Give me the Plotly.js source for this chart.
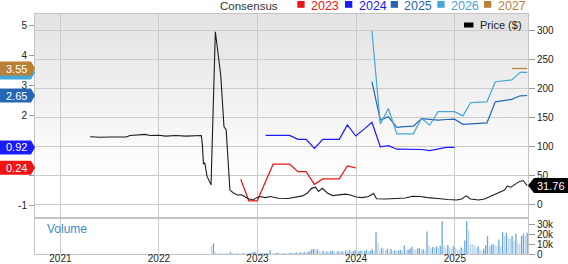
<!DOCTYPE html>
<html><head><meta charset="utf-8">
<script src="https://cdn.plot.ly/plotly-3.0.1.min.js"></script>
<style>
html,body{margin:0;padding:0;background:#fff;overflow:hidden;}
#wrap{position:relative;width:568px;height:264px;}
#bg{position:absolute;left:35px;top:14px;width:493px;height:203px;background:linear-gradient(#e3e3e3 0%,#f2f2f2 45%,#ffffff 80%);}
#chart{position:absolute;left:0;top:0;width:568px;height:264px;}
</style></head><body>
<div id="wrap"><div id="bg"></div><div id="chart"></div></div>
<script>
// ---- data ----
const priceDates = ['2021-04-21','2021-05-28','2021-07-04','2021-08-10','2021-09-02','2021-09-16','2021-10-23','2021-11-11','2021-11-29','2022-01-01','2022-01-26','2022-03-05','2022-04-11','2022-05-18','2022-06-07','2022-06-11','2022-06-15','2022-06-20','2022-06-28','2022-07-13','2022-07-29','2022-08-18','2022-08-30','2022-09-07','2022-09-21','2022-10-04','2022-10-19','2022-11-03','2022-11-13','2022-11-28','2022-12-16','2022-12-29','2023-01-11','2023-01-30','2023-02-18','2023-03-19','2023-04-25','2023-05-21','2023-06-17','2023-07-05','2023-07-20','2023-08-04','2023-08-15','2023-08-29','2023-09-17','2023-10-06','2023-10-28','2023-11-23','2023-12-11','2024-01-02','2024-01-24','2024-02-16','2024-03-06','2024-03-17','2024-04-19','2024-05-26','2024-07-02','2024-07-28','2024-08-27','2024-09-22','2024-10-14','2024-11-09','2024-12-05','2024-12-24','2025-01-08','2025-01-26','2025-02-12','2025-02-28','2025-03-30','2025-04-21','2025-05-14','2025-06-05','2025-06-20','2025-07-04','2025-07-14','2025-07-27','2025-08-14','2025-08-29','2025-09-11','2025-09-26'];
const priceValues = [116,115,115.5,115,115.5,118,119,120,118,118.5,117,118,117,118,118,102,69,71,48,33,297,222,133,128,24,19,15.5,16,13,9,7,11,13,11,13,10,9.5,12,14,19,27,29,21.5,27,19,14.5,15.5,17,15.5,12,11,13,18,9,8.6,9.5,10.3,13.5,13,11,9.5,9,7.8,7,7,8.6,14,8.6,7,8.6,13,17,21,24,31,29,35,39,40.5,31.76];

const eps2023Dates = ['2022-10-31','2022-11-30','2022-12-31','2023-01-31','2023-02-28','2023-03-31','2023-04-30','2023-05-31','2023-06-30','2023-07-31','2023-08-31','2023-09-30','2023-10-31','2023-11-30','2023-12-31'];
const eps2023 = [-0.14,-0.86,-0.86,-0.2,0.36,0.36,0.36,0.11,0.11,-0.31,-0.13,-0.13,-0.13,0.3,0.24];

const eps2024Dates = ['2023-01-31','2023-02-28','2023-03-31','2023-04-30','2023-05-31','2023-06-30','2023-07-31','2023-08-31','2023-09-30','2023-10-31','2023-11-30','2023-12-31','2024-01-31','2024-02-29','2024-03-31','2024-04-30','2024-05-31','2024-06-30','2024-07-31','2024-08-31','2024-09-30','2024-10-31','2024-11-30','2024-12-31'];
const eps2024 = [1.32,1.32,1.32,1.32,1.19,1.19,0.89,1.19,1.19,1.19,1.67,1.30,1.53,1.76,0.94,0.98,0.86,0.86,0.86,0.85,0.81,0.86,0.92,0.92];

const eps2025Dates = ['2024-02-29','2024-03-31','2024-04-30','2024-05-31','2024-06-30','2024-07-31','2024-08-31','2024-09-30','2024-10-31','2024-11-30','2024-12-31','2025-01-31','2025-02-28','2025-03-31','2025-04-30','2025-05-31','2025-06-30','2025-07-31','2025-08-31','2025-09-26'];
const eps2025 = [3.11,1.83,1.94,1.59,1.61,1.63,1.88,1.86,1.83,1.85,1.86,1.69,1.71,1.72,1.74,2.44,2.47,2.52,2.64,2.65];

const eps2026Dates = eps2025Dates;
const eps2026 = [4.8,1.70,2.22,1.37,1.37,1.37,1.89,1.66,2.11,2.11,2.11,1.97,2.41,2.43,2.44,3.11,3.14,3.17,3.42,3.42];

const eps2027Dates = ['2025-07-31','2025-08-31','2025-09-26'];
const eps2027 = [3.55,3.55,3.55];

// weekly volume (thousands), first week starting 2022-07-15
const volumeStart = '2022-07-15';
const volumeK = [8.5,11,2,0.6,0.5,0.8,0.5,0.4,0.6,0.5,2.2,0.8,0.6,0.5,0.7,0.5,0.6,0.8,0.5,0.6,0.9,1.1,2.1,2.3,1.8,1,0.8,0.9,0.7,0.8,0.9,3.8,0.8,0.6,0.9,1.4,0.8,0.6,0.7,0.9,0.6,0.8,1.0,0.7,1.2,1.5,1.0,1.8,1.2,2.0,1.5,2.4,3,5,5.4,4.6,5,3,2.2,3.2,2,2.6,2.2,2.8,3.4,2.4,2.0,3.0,2.2,2.8,2.4,3.6,2.6,3.8,2.8,3.4,4.0,2.6,3.2,3.6,2.8,3.4,4.4,2.6,3.2,5,3.4,22.5,12,4,6.5,5.8,4,5.5,3,5.2,3.4,4,3,3.6,4.2,3,9,3.6,4.4,5.6,7.6,5,4,5.6,6.2,4,5,3.6,23.4,8.6,6,7.2,6.4,8,6.2,8.6,34,8,6,9.4,7,5.2,8,6,5,4.2,6.6,5,14,34,24.5,10.4,10.2,9,6.8,8,5,3.6,5.4,9,18.5,8,9.4,10,9,8.4,15,8,22.7,19,22,17,15.6,18.5,14,21,12,10.3,18.5,21,19.5,22];

// labels "1" and "0" are hidden under the value tags in the reference
const leftTickVals = [-1,0,1,2,3,4,5];
const leftTickText = ['-1','','','2','3','4','5'];
const volTickVals = [0,10,20,30];
const volTickText = ['0','10k','20k','30k'];

const seriesNames = ['2023','2024','2025','2026','2027'];
const seriesColors = ['#f01414','#1a1aff','#2466b4','#44a6d9','#b98036'];
const lastLabels = ['0.24','0.92','2.65','3.42','3.55'];
const lastValues = [0.24,0.92,2.65,3.42,3.55];
const lastPrice = 31.76;

// ---- build ----
const volumeDates = volumeK.map((_, i) => {
  const d = new Date(volumeStart + 'T00:00:00Z');
  d.setUTCDate(d.getUTCDate() + 7 * i);
  return d.toISOString().slice(0, 10);
});
const volColors = volumeK.map((v, i) => (i > 0 && v > volumeK[i - 1]) ? '#6fa7da' : '#b9d5ee');

const FONT = 'Arial, "Liberation Sans", sans-serif';
const W = 568, H = 264, ML = 35, MR = 40, MT = 14, MB = 10;
const PW = W - ML - MR, PH = H - MT - MB;
const px = x => (x - ML) / PW;          // pixel -> paper x (decorations only)
const py = y => (H - MB - y) / PH;      // pixel -> paper y (decorations only)

const epsDates = [eps2023Dates, eps2024Dates, eps2025Dates, eps2026Dates, eps2027Dates];
const epsVals = [eps2023, eps2024, eps2025, eps2026, eps2027];

const traces = [];
traces.push({type:'bar', x: volumeDates, y: volumeK, xaxis:'x', yaxis:'y3',
  marker:{color: volColors, line:{width:0}}, hoverinfo:'skip', showlegend:false});
epsDates.forEach((d, i) => traces.push({type:'scatter', mode:'lines', x:d, y:epsVals[i],
  xaxis:'x', yaxis:'y', line:{color:seriesColors[i], width:1.2}, name:seriesNames[i], showlegend:false}));
traces.push({type:'scatter', mode:'lines', x: priceDates, y: priceValues, xaxis:'x', yaxis:'y2',
  line:{color:'#1c1c1c', width:1.1}, name:'Price ($)', showlegend:false});

const shapes = [];
const annotations = [];
// separator band between panels
shapes.push({type:'rect', xref:'paper', yref:'paper', x0:0, x1:1, y0:py(219), y1:py(217),
  fillcolor:'#e2e2e2', line:{width:0}, layer:'below'});

// left value tags (3.55 drawn last so it sits on top of 3.42)
const tagOrder = [0,1,2,3,4];
const halfH = 7 / 30; // 7px in EPS units (30 px per unit)
tagOrder.forEach(i => {
  const v = lastValues[i];
  const xl = px(0), xb = px(31), xt = px(35);
  shapes.push({type:'path', xref:'paper', yref:'y', layer:'above',
    path:`M ${xl},${v+halfH} L ${xb},${v+halfH} L ${xt},${v} L ${xb},${v-halfH} L ${xl},${v-halfH} Z`,
    fillcolor: seriesColors[i], line:{width:0}});
  if (i !== 3) {
    annotations.push({xref:'paper', yref:'y', x:px(16), y:v, text:lastLabels[i], showarrow:false,
      xanchor:'center', yanchor:'middle', font:{family:FONT, size:11, color:'#ffffff'}});
  }
});
// right price tag
{
  const hh = 7.5 / 0.58;
  const v = lastPrice;
  shapes.push({type:'path', xref:'paper', yref:'y2', layer:'above',
    path:`M ${px(528)},${v} L ${px(534)},${v+hh} L ${px(568)},${v+hh} L ${px(568)},${v-hh} L ${px(534)},${v-hh} Z`,
    fillcolor:'#000000', line:{width:0}});
  annotations.push({xref:'paper', yref:'y2', x:px(550.5), y:v, text:lastPrice.toFixed(2), showarrow:false,
    xanchor:'center', yanchor:'middle', font:{family:FONT, size:11, color:'#ffffff'}});
}
// top legend
annotations.push({xref:'paper', yref:'paper', x:px(280), y:py(5.5), text:'Consensus', showarrow:false,
  xanchor:'right', yanchor:'middle', font:{family:FONT, size:11.5, color:'#333333'}});
const sqX = [297.3, 345, 390.7, 437.3, 484];
seriesNames.forEach((n, i) => {
  shapes.push({type:'rect', xref:'paper', yref:'paper', x0:px(sqX[i]), x1:px(sqX[i]+7.3), y0:py(7.8), y1:py(1),
    fillcolor:seriesColors[i], line:{width:0}});
  annotations.push({xref:'paper', yref:'paper', x:px(sqX[i]+11.5), y:py(5.5), text:n, showarrow:false,
    xanchor:'left', yanchor:'middle', font:{family:FONT, size:12.5, color:seriesColors[i]}});
});
// price legend
shapes.push({type:'rect', xref:'paper', yref:'paper', x0:px(464), x1:px(473.5), y0:py(27.5), y1:py(22.5),
  fillcolor:'#000000', line:{width:0}});
annotations.push({xref:'paper', yref:'paper', x:px(478), y:py(25), text:'Price ($)', showarrow:false,
  xanchor:'left', yanchor:'middle', font:{family:FONT, size:11, color:'#222222'}});
// volume label
annotations.push({xref:'paper', yref:'paper', x:px(44.5), y:py(229), text:'Volume', showarrow:false,
  xanchor:'left', yanchor:'middle', font:{family:FONT, size:12, color:'#3b8ad0'}});

const gridC = '#cbcbcb', lineC = '#c4c4c4', tickFont = {family:FONT, size:10, color:'#222222'};
const layout = {
  width: W, height: H,
  margin: {l: ML, r: MR, t: MT, b: MB, pad: 0},
  paper_bgcolor: 'rgba(0,0,0,0)', plot_bgcolor: 'rgba(0,0,0,0)',
  showlegend: false, bargap: 0.3,
  font: {family: FONT, size: 10, color: '#222'},
  xaxis: {type:'date', range:['2020-09-29','2025-09-29'], anchor:'y3', tick0:'2021-01-01', dtick:'M12',
    tickformat:'%Y', showgrid:true, gridcolor:gridC, gridwidth:1, ticks:'', showline:true, linecolor:lineC,
    mirror:'all', zeroline:false, tickfont:{family:FONT, size:10, color:'#222222'}, automargin:false, ticklabelstandoff:-5},
  yaxis: {domain:[37/PH, 1], range:[-1.4, 5.367], side:'left', anchor:'x', tickvals:leftTickVals, ticktext:leftTickText,
    showgrid:false, zeroline:false, ticks:'outside', ticklen:5, tickcolor:'#9a9a9a', showline:true, linecolor:lineC,
    tickfont:tickFont, automargin:false},
  yaxis2: {overlaying:'y', side:'right', anchor:'x', range:[-22.4, 327.6], dtick:50, tick0:0,
    showgrid:true, gridcolor:gridC, zeroline:false, ticks:'outside', ticklen:6, tickcolor:'#9a9a9a',
    showline:true, linecolor:lineC, tickfont:tickFont, automargin:false},
  yaxis3: {domain:[0, 35/PH], range:[0, 36.2], side:'right', anchor:'x', tickvals:volTickVals, ticktext:volTickText,
    showgrid:false, zeroline:false, ticks:'outside', ticklen:6, tickcolor:'#9a9a9a', showline:true, mirror:true,
    linecolor:lineC, tickfont:tickFont, automargin:false},
  shapes: shapes, annotations: annotations
};
Plotly.newPlot('chart', traces, layout, {displayModeBar:false, staticPlot:true});
</script>
</body></html>
